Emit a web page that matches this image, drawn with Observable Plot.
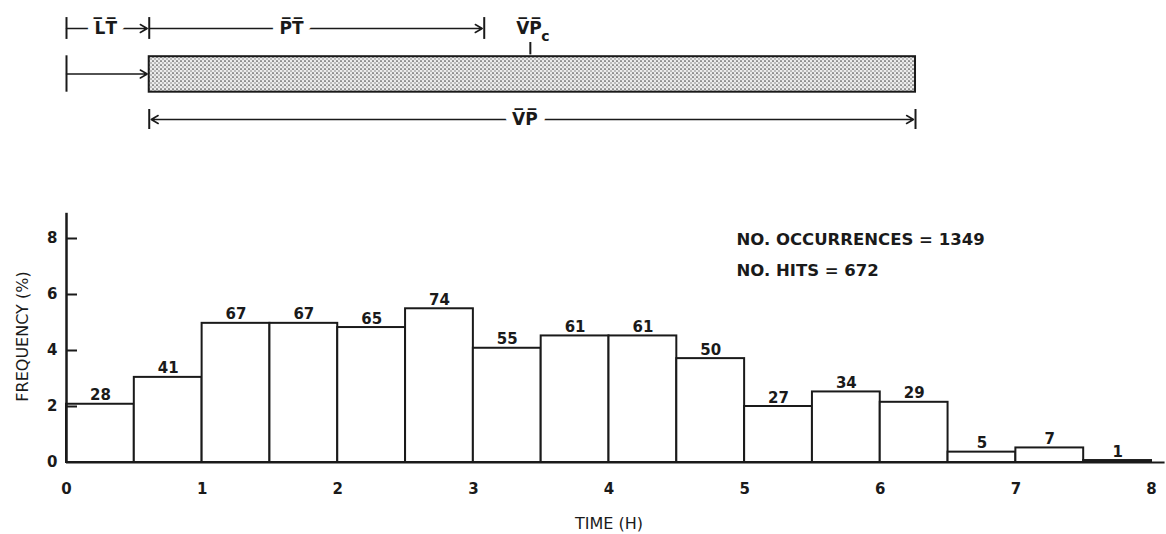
<!DOCTYPE html>
<html>
<head>
<meta charset="utf-8">
<script src="https://cdn.jsdelivr.net/npm/d3@7"></script>
<script src="https://cdn.jsdelivr.net/npm/@observablehq/plot@0.6"></script>
<style>
  body { margin: 0; background: #fff; }
  #chart svg { display: block; }
</style>
</head>
<body>
<svg width="0" height="0" style="position:absolute">
  <defs>
    <pattern id="dots" width="4" height="4" patternUnits="userSpaceOnUse">
      <rect width="4" height="4" fill="#ececec"/>
      <circle cx="1" cy="1" r="0.85" fill="#444"/>
      <circle cx="3" cy="3" r="0.7" fill="#666"/>
    </pattern>
  </defs>
</svg>
<div id="chart"></div>
<script>
// ---- histogram data (0.5 h bins) ----
const binStart = [0, 0.5, 1, 1.5, 2, 2.5, 3, 3.5, 4, 4.5, 5, 5.5, 6, 6.5, 7, 7.5];
const binEnd   = [0.5, 1, 1.5, 2, 2.5, 3, 3.5, 4, 4.5, 5, 5.5, 6, 6.5, 7, 7.5, 8];
const hits      = [28, 41, 67, 67, 65, 74, 55, 61, 61, 50, 27, 34, 29, 5, 7, 1];
const frequency = [2.08, 3.04, 4.97, 4.97, 4.82, 5.49, 4.08, 4.52, 4.52, 3.71, 2.00, 2.52, 2.15, 0.37, 0.52, 0.07];
const xTicks = [0, 1, 2, 3, 4, 5, 6, 7, 8];
const yTicks = [0, 2, 4, 6, 8];
const notes = ["NO. OCCURRENCES = 1349", "NO. HITS = 672"];

// ---- timeline diagram data (hours) ----
const ltSpan = [0, 0.61];      // LT
const ptSpan = [0.61, 3.08];   // PT
const vpSpan = [0.61, 6.26];   // VP
const vpcTime = [3.42];        // VPc
const diagramLabels = ["L\u0305T\u0305", "P\u0305T\u0305", "V\u0305P\u0305", "V\u0305P\u0305"];
const diagramLabelTime = [0.29, 1.66, 3.41, 3.38];
const diagramLabelRow = [2, 2, 2, 0];

const bins = binStart.map((s, i) => ({start: s, end: binEnd[i], count: hits[i], freq: frequency[i]}));
const labels = diagramLabels.map((t, i) => ({text: t, x: diagramLabelTime[i], row: diagramLabelRow[i]}));

const font = {fontFamily: "DejaVu Sans", fontSize: "15px", fontWeight: "bold", color: "#1a1a1a", background: "white"};
const ink = "#1a1a1a";

const diagram = Plot.plot({
  width: 1166, height: 140,
  marginLeft: 66, marginRight: 15, marginTop: 0, marginBottom: 0,
  x: {domain: [0, 8], axis: null},
  y: {domain: [-0.5, 2.5], range: [141.75, 5.25], axis: null},
  style: font,
  marks: [
    Plot.rect([vpSpan], {x1: d => d[0], x2: d => d[1], y1: 0.6, y2: 1.38, fill: "url(#dots)", stroke: ink, strokeWidth: 2}),
    // row 2: LT and PT
    Plot.arrow([ltSpan, ptSpan], {x1: d => d[0], x2: d => d[1], y1: 2, y2: 2, stroke: ink, strokeWidth: 1.5, headLength: 8, insetEnd: 2}),
    Plot.ruleX([ltSpan[0], ptSpan[0], ptSpan[1]], {y1: 1.76, y2: 2.24, stroke: ink, strokeWidth: 2}),
    // row 1: lead-in arrow to bar
    Plot.arrow([ltSpan], {x1: d => d[0], x2: d => d[1], y1: 1, y2: 1, stroke: ink, strokeWidth: 1.5, headLength: 8, insetEnd: 2}),
    Plot.ruleX([ltSpan[0]], {y1: 0.6, y2: 1.4, stroke: ink, strokeWidth: 2}),
    Plot.ruleX(vpcTime, {y1: 1.42, y2: 1.75, stroke: ink, strokeWidth: 2}),
    // row 0: VP double arrow
    Plot.arrow([[diagramLabelTime[3], vpSpan[0]], [diagramLabelTime[3], vpSpan[1]]], {x1: d => d[0], x2: d => d[1], y1: 0, y2: 0, stroke: ink, strokeWidth: 1.5, headLength: 8, insetEnd: 2}),
    Plot.ruleX(vpSpan, {y1: -0.22, y2: 0.22, stroke: ink, strokeWidth: 2}),
    // labels with white halo
    Plot.text(labels, {x: "x", y: "row", text: "text", fill: ink, stroke: "white", strokeWidth: 16, fontSize: 17}),
    Plot.text(["c"], {x: vpcTime, y: 2, text: d => d, fill: ink, fontSize: 14, dx: 15, dy: 8})
  ]
});

const hist = Plot.plot({
  width: 1166, height: 394,
  marginLeft: 66, marginRight: 15, marginTop: 70, marginBottom: 72,
  x: {domain: [0, 8]},
  y: {domain: [0, 9]},
  style: font,
  marks: [
    Plot.rectY(bins, {x1: "start", x2: "end", y: "freq", fill: "white", stroke: ink, strokeWidth: 2}),
    Plot.ruleY([0], {x1: 0, x2: 8.1, stroke: ink, strokeWidth: 2}),
    Plot.ruleX([0], {y1: 0, y2: 8.9, stroke: ink, strokeWidth: 2.5}),
    Plot.tickY(yTicks.filter(v => v > 0), {y: d => d, insetRight: 1166 - 66 - 15 - 11, stroke: ink, strokeWidth: 2}),
    Plot.axisY({ticks: yTicks, tickSize: 0, tickPadding: 9, label: null}),
    Plot.axisY({ticks: [], tickSize: 0, label: "FREQUENCY (%)", labelAnchor: "center", labelOffset: 50, labelArrow: "none", fontWeight: "normal", fontSize: 16}),
    Plot.axisX({ticks: xTicks, tickSize: 0, tickPadding: 21, tickFormat: d => String(d), label: null}),
    Plot.axisX({ticks: [], tickSize: 0, label: "TIME (H)", labelAnchor: "center", labelOffset: 66, labelArrow: "none", fontWeight: "normal", fontSize: 16}),
    Plot.text(bins, {x: d => (d.start + d.end) / 2, y: "freq", text: "count", lineAnchor: "bottom", dy: -4, fill: ink}),
    Plot.text([notes.join("\n")], {x: 4.94, y: 7.93, textAnchor: "start", lineAnchor: "top", lineHeight: 1.85, fontSize: 16.5, dy: -17, fill: ink})
  ]
});

document.getElementById("chart").append(diagram, hist);
</script>
</body>
</html>
